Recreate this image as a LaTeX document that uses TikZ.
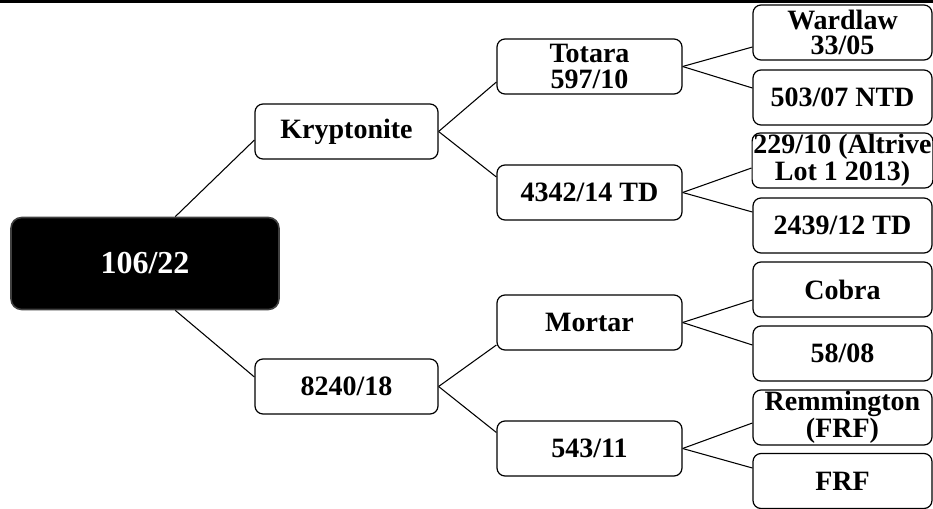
\documentclass[tikz,border=0pt]{standalone}
\usepackage{fontspec}
\setmainfont{Liberation Serif}
\usetikzlibrary{calc, backgrounds}
\tikzset{
  every picture/.style={line width=0.75pt},
  box/.style={draw, fill=white, rounded corners=6pt, align=center, inner xsep=1pt, inner ysep=0pt, font=\bfseries\fontsize{21}{19}\selectfont, line width=0.9pt, minimum width=#1, minimum height=41.25pt},
  box/.default=137.25pt,
  leaf/.style={box=134.25pt},
  rootbox/.style={draw=black!75, fill=black, text=white, rounded corners=8pt, font=\bfseries\fontsize{24}{26}\selectfont, line width=1.2pt, minimum width=201pt, minimum height=69pt},
  link/.style={draw=black, line width=0.8pt},
}
\begin{document}
\begin{tikzpicture}[x=0.75pt, y=-0.75pt]
  \useasboundingbox (0,0) rectangle (933,508);
  \fill (0,0) rectangle (933,3);
  \node[rootbox] (root) at (145,263.5) {106/22};
  \node[box] (kry) at (346.5,131.5) {Kryptonite};
  \node[box] (k8240) at (346.5,386.5) {8240/18};
  \node[box=138.75pt] (tot) at (589.5,66.5) {Totara\\597/10};
  \node[box=138.75pt] (td4342) at (589.5,192.5) {4342/14 TD};
  \node[box=138.75pt] (mor) at (589.5,322.5) {Mortar};
  \node[box=138.75pt] (s543) at (589.5,448.5) {543/11};
  \node[leaf] (ward) at (842.5,32.5) {Wardlaw\\33/05};
  \node[leaf] (ntd) at (842.5,97.5) {503/07 NTD};
  \node[leaf] (alt) at (842.5,160.5) {229/10 (Altrive\\Lot 1 2013)};
  \node[leaf] (td2439) at (842.5,225.5) {2439/12 TD};
  \node[leaf] (cob) at (842.5,289.5) {Cobra};
  \node[leaf] (s5808) at (842.5,353.5) {58/08};
  \node[leaf] (rem) at (842.5,417.5) {Remmington\\(FRF)};
  \node[leaf] (frf) at (842.5,481) {FRF};
  \begin{scope}[on background layer]
    \draw[link] ($(root.north west)+(165,0)$) -- ($(kry.west)+(0,8.5)$);
    \draw[link] ($(root.south west)+(165,0)$) -- ($(k8240.west)+(0,-9.5)$);
    \foreach \u/\v/\d in {kry/tot/15.5, kry/td4342/-15.5, k8240/mor/22.5, k8240/s543/-16,
      tot/ward/14.5, tot/ntd/-9.5, td4342/alt/7.5, td4342/td2439/-13.5,
      mor/cob/10.5, mor/s5808/-8.5, s543/rem/5.5, s543/frf/-13}
      \draw[link] (\u.east) -- ($(\v.west)+(0,\d)$);
  \end{scope}
\end{tikzpicture}
\end{document}
